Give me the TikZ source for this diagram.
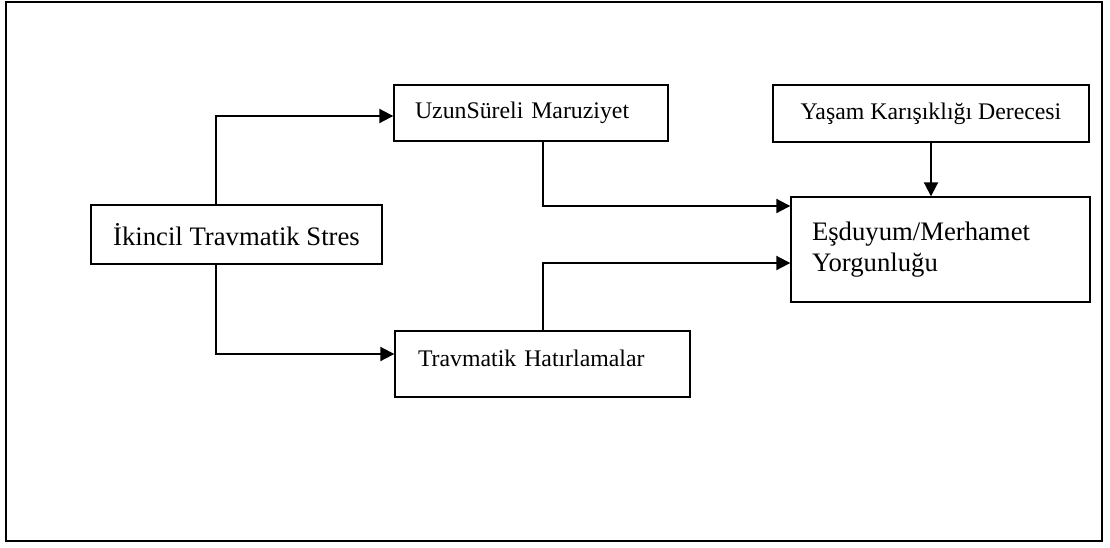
\documentclass[tikz,border=0pt]{standalone}
\usepackage{fontspec}
\setmainfont{Liberation Serif}
\usetikzlibrary{arrows.meta, positioning}

\begin{document}
\begin{tikzpicture}[x=1pt, y=-1pt,
  box/.style={draw, line width=1.4pt, inner sep=0pt, font=\fontsize{23.8}{28}\selectfont},
  bigbox/.style={box, font=\fontsize{26.7}{31}\selectfont},
  link/.style={line width=2pt, -{Triangle[length=14pt,width=14pt]}}]
\useasboundingbox (0,0) rectangle (1110,547);
\draw [line width=2pt] (6,2) rectangle (1102,541);
\node (stres) at (236.5,234.5) [bigbox, minimum width=291pt, minimum height=59pt] {İkincil Travmatik Stres};
\node (uzun) at (531,113) [box, minimum width=274pt, minimum height=56pt, text width=232pt, inner xsep=21pt, align=left] {UzunSüreli Maruziyet};
\node (yasam) at (931,113.5) [box, minimum width=316pt, minimum height=57pt] {Yaşam Karışıklığı Derecesi};
\node (esd) at (940.5,249.5) [bigbox, minimum width=299pt, minimum height=105pt, text width=257pt, inner xsep=21pt, align=left] {Eşduyum/Merhamet\\Yorgunluğu};
\node (trav) at (542.5,364) [box, minimum width=295pt, minimum height=66pt, text width=249pt, inner xsep=23pt, align=left, text depth=12pt] {Travmatik Hatırlamalar};
\draw [link] ([xshift=-20.5pt]stres.north) |- ([yshift=-3pt]uzun.west);
\draw [link] ([xshift=-20.5pt]stres.south) |- ([yshift=10pt]trav.west);
\draw [link] ([xshift=12pt]uzun.south) |- ([yshift=43.5pt]esd.west);
\draw [link] ([xshift=0.5pt]trav.north) |- ([yshift=-13.5pt]esd.west);
\draw [link] (yasam.south) -- (yasam.south |- esd.north);
\end{tikzpicture}
\end{document}
